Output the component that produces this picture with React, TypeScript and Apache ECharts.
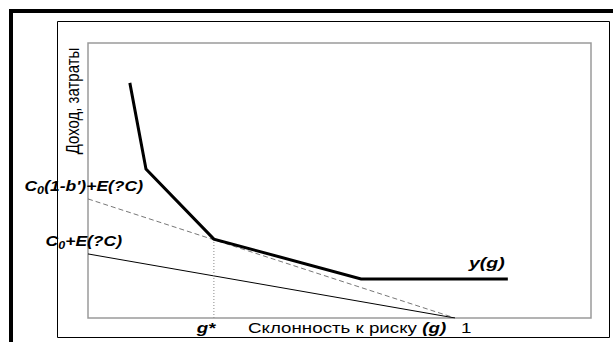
import React, { useEffect, useRef } from "react";
import * as echarts from "echarts";

// Data (abstract units: x = risk propensity, y = income/costs)
const yCurveX = [0.114, 0.158, 0.343, 0.744, 1.144];
const yCurveY = [8.55, 5.42, 2.87, 1.42, 1.42];
const dashedX = [0, 1];
const dashedY = [4.33, 0];
const solidX = [0, 1];
const solidY = [2.33, 0];
const gStar = 0.343;
const gStarY = 2.87;

const FONT = "'Liberation Sans', Arial, sans-serif";

export default function App() {
  const ref = useRef<HTMLDivElement>(null);
  useEffect(() => {
    if (!ref.current) return;
    const chart = echarts.init(ref.current, null, { renderer: "svg" });
    const toPairs = (xs: number[], ys: number[]) => xs.map((x, i) => [x, ys[i]]);
    const bi = (size: number) => ({ fontFamily: FONT, fontSize: size, fontWeight: "bold" as const, fontStyle: "italic" as const, fill: "#000", lineHeight: 18 });
    const sub = { fontFamily: FONT, fontSize: 10, fontWeight: "bold" as const, fontStyle: "italic" as const, fill: "#000", verticalAlign: "bottom" as const, lineHeight: 18 };
    const norm = (size: number) => ({ fontFamily: FONT, fontSize: size, fill: "#000", lineHeight: 18 });
    chart.setOption({
      animation: false,
      backgroundColor: "#fff",
      grid: {
        left: 88,
        top: 43,
        right: 22,
        bottom: 24,
        show: true,
        borderColor: "#9a9a9a",
        borderWidth: 1.5,
        backgroundColor: "transparent",
      },
      xAxis: { type: "value", min: 0, max: 1.3706, show: false },
      yAxis: { type: "value", min: 0, max: 10, show: false },
      series: [
        {
          type: "line",
          data: toPairs(dashedX, dashedY),
          symbol: "none",
          lineStyle: { color: "#777", width: 1, type: [5, 3] },
          z: 2,
        },
        {
          type: "line",
          data: toPairs(solidX, solidY),
          symbol: "none",
          lineStyle: { color: "#000", width: 1 },
          z: 2,
        },
        {
          type: "line",
          data: [[gStar, 0], [gStar, gStarY]],
          symbol: "none",
          lineStyle: { color: "#888", width: 1, type: [1, 2] },
          z: 2,
        },
        {
          type: "line",
          data: toPairs(yCurveX, yCurveY),
          symbol: "none",
          lineStyle: { color: "#000", width: 3, join: "miter" },
          z: 3,
        },
      ],
      graphic: [
        { type: "rect", shape: { x: 9, y: 9, width: 604, height: 4 }, style: { fill: "#000" } },
        { type: "rect", shape: { x: 9, y: 9, width: 4, height: 333 }, style: { fill: "#000" } },
        {
          type: "rect",
          shape: { x: 57.5, y: 21.5, width: 552, height: 316 },
          style: { fill: "none", stroke: "#000", lineWidth: 1 },
        },
        {
          type: "text",
          x: 73,
          y: 101,
          rotation: Math.PI / 2,
          scaleY: 1.2,
          style: { text: "Доход, затраты", font: `15px ${FONT}`, fill: "#000", textAlign: "center", textVerticalAlign: "middle" },
        },
        {
          type: "text",
          x: 143,
          y: 186,
          scaleX: 1.25,
          style: {
            text: "{b|C}{s|0}{b|(1-b')+E(?C)}",
            textAlign: "right",
            textVerticalAlign: "middle",
            rich: { b: bi(14), s: sub },
          },
        },
        {
          type: "text",
          x: 122,
          y: 241,
          scaleX: 1.25,
          style: {
            text: "{b|C}{s|0}{b|+E(?C)}",
            textAlign: "right",
            textVerticalAlign: "middle",
            rich: { b: bi(14), s: sub },
          },
        },
        {
          type: "text",
          x: 469,
          y: 263,
          scaleX: 1.3,
          style: { text: "{b|y(g)}", textAlign: "left", textVerticalAlign: "middle", rich: { b: bi(15) } },
        },
        {
          type: "text",
          x: 206,
          y: 328,
          scaleX: 1.25,
          style: { text: "{b|g*}", textAlign: "center", textVerticalAlign: "middle", rich: { b: bi(15) } },
        },
        {
          type: "text",
          x: 248,
          y: 328,
          scaleX: 1.25,
          style: {
            text: "{n|Склонность к риску }{b|(g)}",
            textAlign: "left",
            textVerticalAlign: "middle",
            rich: { n: norm(15), b: bi(15) },
          },
        },
        {
          type: "text",
          x: 461,
          y: 328,
          scaleX: 1.25,
          style: { text: "1", font: `15px ${FONT}`, fill: "#000", textAlign: "left", textVerticalAlign: "middle" },
        },
      ],
    });
    return () => chart.dispose();
  }, []);
  return (
    <div
      ref={ref}
      style={{ position: "fixed", left: 0, top: 0, width: 613, height: 342, background: "#fff" }}
    />
  );
}
